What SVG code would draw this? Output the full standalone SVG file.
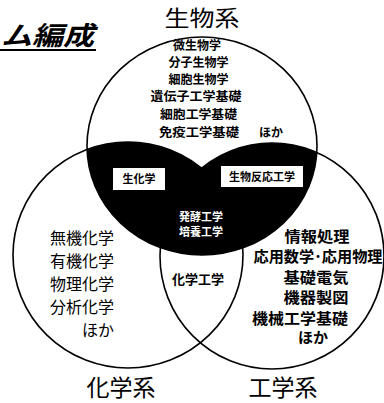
<svg xmlns="http://www.w3.org/2000/svg" width="384" height="403" viewBox="0 0 384 403">
<style>
.c{fill:none;stroke:#000;stroke-width:1.6}
.t{font-family:"Noto Sans CJK JP","Noto Sans CJK SC",sans-serif;fill:#000}
.bio{font-size:12px;font-weight:bold;text-anchor:middle}
.lab{font-size:11px;font-weight:bold;text-anchor:middle}
.w{fill:#fff}
.big{font-size:23px;text-anchor:middle}
.ch{font-size:16px}
.en{font-size:15px;font-weight:bold;text-anchor:middle}
.box{fill:#fff;stroke:none}
</style>
<defs>
<clipPath id="topClip"><ellipse cx="202" cy="146" rx="115" ry="109"/></clipPath>
</defs>
<rect width="384" height="403" fill="#fff"/>

<g id="title">
<text class="t" x="1" y="45" font-size="26" font-weight="bold" font-style="italic" textLength="93" lengthAdjust="spacingAndGlyphs">ム編成</text>
<line x1="0" y1="50" x2="96" y2="50" stroke="#000" stroke-width="2"/>
</g>

<g id="overlap">
<g clip-path="url(#topClip)">
<ellipse cx="128" cy="255" rx="115" ry="113" fill="#000"/>
<ellipse cx="272" cy="256" rx="112" ry="113" fill="#000"/>
</g>
<rect class="box" x="113" y="168" width="52" height="22"/>
<text class="t lab" x="139" y="183">生化学</text>
<rect class="box" x="221" y="166" width="82" height="21"/>
<text class="t lab" x="262" y="181">生物反応工学</text>
<text class="t lab w" x="201" y="221" font-size="12">発酵工学</text>
<text class="t lab w" x="201" y="236" font-size="12">培養工学</text>
</g>

<g id="bio">
<ellipse class="c" cx="202" cy="146" rx="115" ry="109"/>
<text class="t big" x="202" y="26" textLength="75" lengthAdjust="spacingAndGlyphs" style="font-size:22px">生物系</text>
<text class="t bio" x="197" y="50">微生物学</text>
<text class="t bio" x="198.5" y="67">分子生物学</text>
<text class="t bio" x="198.5" y="84">細胞生物学</text>
<text class="t bio" x="196" y="101" textLength="91" lengthAdjust="spacingAndGlyphs">遺伝子工学基礎</text>
<text class="t bio" x="198.5" y="119" textLength="77" lengthAdjust="spacingAndGlyphs">細胞工学基礎</text>
<text class="t bio" x="199" y="137" textLength="80" lengthAdjust="spacingAndGlyphs">免疫工学基礎</text>
<text class="t bio" x="271" y="137">ほか</text>
</g>

<g id="chem">
<ellipse class="c" cx="128" cy="255" rx="115" ry="113"/>
<text class="t big" x="121" y="396">化学系</text>
<text class="t ch" x="50" y="244">無機化学</text>
<text class="t ch" x="50" y="267">有機化学</text>
<text class="t ch" x="50" y="290">物理化学</text>
<text class="t ch" x="50" y="313">分析化学</text>
<text class="t ch" x="114" y="336" text-anchor="end">ほか</text>
</g>

<g id="eng">
<ellipse class="c" cx="272" cy="256" rx="112" ry="113"/>
<text class="t big" x="283" y="396">工学系</text>
<text class="t en" x="317" y="242" textLength="65" lengthAdjust="spacingAndGlyphs">情報処理</text>
<text class="t en" x="318" y="262" textLength="129" lengthAdjust="spacingAndGlyphs">応用数学･応用物理</text>
<text class="t en" x="316" y="283" textLength="65" lengthAdjust="spacingAndGlyphs">基礎電気</text>
<text class="t en" x="316" y="303" textLength="65" lengthAdjust="spacingAndGlyphs">機器製図</text>
<text class="t en" x="300" y="324" textLength="96" lengthAdjust="spacingAndGlyphs">機械工学基礎</text>
<text class="t en" x="313" y="343">ほか</text>
</g>

<g id="bridge">
<text class="t" x="198" y="284" font-size="13" font-weight="bold" text-anchor="middle">化学工学</text>
</g>

<g id="connectors"/>
</svg>
